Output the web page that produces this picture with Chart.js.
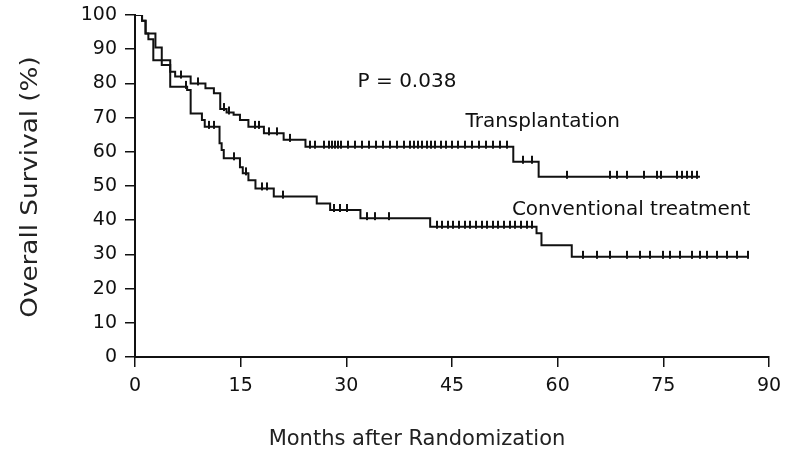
<!DOCTYPE html>
<html>
<head>
<meta charset="utf-8">
<script src="https://cdn.jsdelivr.net/npm/chart.js@4"></script>
<style>
  html, body { margin: 0; padding: 0; background: #fff; }
  #wrap { width: 793px; height: 459px; }
</style>
</head>
<body>
<div id="wrap"><canvas id="kmChart"></canvas></div>
<script>
// Kaplan-Meier steps (month, % surviving after the drop)
const transplantMonths = [0, 1.0, 1.5, 2.9, 3.8, 5.0, 5.7, 7.9, 10.0, 11.2, 12.1, 13.0, 14.0, 14.9, 16.1, 18.3, 21.1, 24.2, 53.7, 57.3, 80.2];
const transplantSurv   = [100, 98.3, 94.6, 90.5, 85.4, 83.4, 82.0, 80.0, 78.6, 77.1, 72.5, 71.5, 70.8, 69.3, 67.3, 65.4, 63.5, 61.5, 57.1, 52.7, 52.7];

const conventionalMonths = [0, 1.0, 1.5, 1.9, 2.6, 5.0, 7.4, 7.9, 9.5, 9.9, 12.0, 12.3, 12.6, 14.9, 15.3, 16.1, 17.1, 19.7, 25.8, 27.7, 32.0, 41.9, 57.0, 57.7, 62.0, 87.0];
const conventionalSurv   = [100, 98.3, 94.6, 92.9, 86.8, 79.0, 78.1, 71.2, 69.3, 67.3, 62.5, 60.5, 58.1, 55.5, 53.7, 51.7, 49.3, 46.9, 44.9, 43.0, 40.6, 38.1, 36.2, 32.7, 29.3, 29.3];

// censored observations (months)
const transplantCensor = [6.5, 9.0, 12.6, 13.4, 17.0, 17.6, 19.0, 20.2, 22.0, 24.8, 25.5, 26.8, 27.6, 28.0, 28.4, 28.8, 29.3, 30.2, 31.2, 32.2, 33.2, 34.2, 35.2, 36.2, 37.2, 38.2, 39.0, 39.6, 40.2, 40.8, 41.4, 42.0, 42.6, 43.4, 44.2, 45.0, 45.8, 46.8, 47.8, 48.8, 49.8, 50.8, 51.8, 52.8, 55.1, 56.3, 61.3, 67.4, 68.4, 69.8, 72.2, 74.1, 74.6, 76.9, 77.6, 78.3, 79.0, 79.8];
const conventionalCensor = [7.2, 10.5, 11.2, 14.0, 15.8, 18.0, 18.8, 21.0, 28.2, 29.1, 30.1, 32.9, 34.1, 36.0, 42.8, 43.6, 44.4, 45.2, 46.0, 46.8, 47.6, 48.4, 49.2, 50.0, 50.8, 51.6, 52.4, 53.2, 54.0, 54.8, 55.6, 56.4, 63.6, 65.6, 67.4, 69.8, 71.7, 73.1, 75.0, 76.0, 77.4, 79.1, 80.2, 81.2, 82.6, 84.0, 85.5, 87.0];

const xTicks = [0, 15, 30, 45, 60, 75, 90];
const yTicks = [0, 10, 20, 30, 40, 50, 60, 70, 80, 90, 100];

const labels = [
  { text: 'P = 0.038', x: 31.6, y: 80.4 },
  { text: 'Transplantation', x: 46.9, y: 68.7 },
  { text: 'Conventional treatment', x: 53.5, y: 43.0 }
];

function toPoints(xs, ys) {
  return xs.map((x, i) => ({ x: x, y: ys[i] }));
}

// level of a step curve at time t (censor marks sit on the curve)
function levelAt(xs, ys, t) {
  let v = ys[0];
  for (let i = 0; i < xs.length; i++) {
    if (xs[i] <= t) v = ys[i];
  }
  return v;
}

function censorPoints(times, xs, ys) {
  return times.map(t => ({ x: t, y: levelAt(xs, ys, t) }));
}

const FONT = '"DejaVu Sans", "Liberation Sans", sans-serif';
const INK = '#111';

// small upright tick used for censor marks (mostly above the line)
const tick = document.createElement('canvas');
tick.width = 2;
tick.height = 16;
const tctx = tick.getContext('2d');
tctx.fillStyle = INK;
tctx.fillRect(0, 2, 2, 8);

const textPlugin = {
  id: 'curveText',
  afterDatasetsDraw(chart) {
    const ctx = chart.ctx;
    const xs = chart.scales.x, ys = chart.scales.y;
    ctx.save();
    ctx.fillStyle = INK;
    ctx.font = '20px ' + FONT;
    ctx.textAlign = 'left';
    ctx.textBaseline = 'middle';
    labels.forEach(l => {
      ctx.fillText(l.text, xs.getPixelForValue(l.x), ys.getPixelForValue(l.y));
    });

    // axis titles, placed as in the original figure
    ctx.fillStyle = '#222';
    ctx.textAlign = 'center';
    ctx.font = '21px ' + FONT;
    ctx.fillText('Months after Randomization', 417, 440);

    ctx.translate(31, 187);
    ctx.rotate(-Math.PI / 2);
    ctx.scale(1.14, 1);
    ctx.font = '23px ' + FONT;
    ctx.fillText('Overall Survival (%)', 0, 0);
    ctx.restore();
  }
};

const ctx = document.getElementById('kmChart').getContext('2d');
const kmChart = new Chart(ctx, {
  type: 'line',
  data: {
    datasets: [
      {
        label: 'Transplantation',
        data: toPoints(transplantMonths, transplantSurv),
        borderColor: INK,
        borderWidth: 2,
        stepped: 'before',
        pointRadius: 0,
        fill: false
      },
      {
        label: 'Conventional treatment',
        data: toPoints(conventionalMonths, conventionalSurv),
        borderColor: INK,
        borderWidth: 2,
        stepped: 'before',
        pointRadius: 0,
        fill: false
      },
      {
        label: 'censor-t',
        data: censorPoints(transplantCensor, transplantMonths, transplantSurv),
        showLine: false,
        pointStyle: tick,
        pointRadius: 4
      },
      {
        label: 'censor-c',
        data: censorPoints(conventionalCensor, conventionalMonths, conventionalSurv),
        showLine: false,
        pointStyle: tick,
        pointRadius: 4
      }
    ]
  },
  options: {
    responsive: true,
    maintainAspectRatio: false,
    animation: false,
    layout: { padding: { top: 15, right: 24, left: 0, bottom: 2 } },
    plugins: {
      legend: { display: false },
      tooltip: { enabled: false }
    },
    scales: {
      x: {
        type: 'linear',
        min: 0,
        max: 90,
        afterFit(scale) { scale.height = 100; scale.paddingLeft = 0; scale.paddingRight = 0; },
        afterBuildTicks(scale) { scale.ticks = xTicks.map(v => ({ value: v })); },
        border: { color: INK, width: 2 },
        grid: { drawOnChartArea: false, drawTicks: true, tickLength: 10, color: INK, lineWidth: 1.5 },
        ticks: { color: INK, font: { family: FONT, size: 19 }, padding: 8, maxRotation: 0 }
      },
      y: {
        min: 0,
        max: 100,
        afterFit(scale) { scale.width = 135; scale.paddingTop = 0; scale.paddingBottom = 0; },
        afterBuildTicks(scale) { scale.ticks = yTicks.map(v => ({ value: v })); },
        border: { color: INK, width: 2 },
        grid: { drawOnChartArea: false, drawTicks: true, tickLength: 10, color: INK, lineWidth: 1.5 },
        ticks: { color: INK, font: { family: FONT, size: 19 }, padding: 8 }
      }
    }
  },
  plugins: [textPlugin]
});
</script>
</body>
</html>
